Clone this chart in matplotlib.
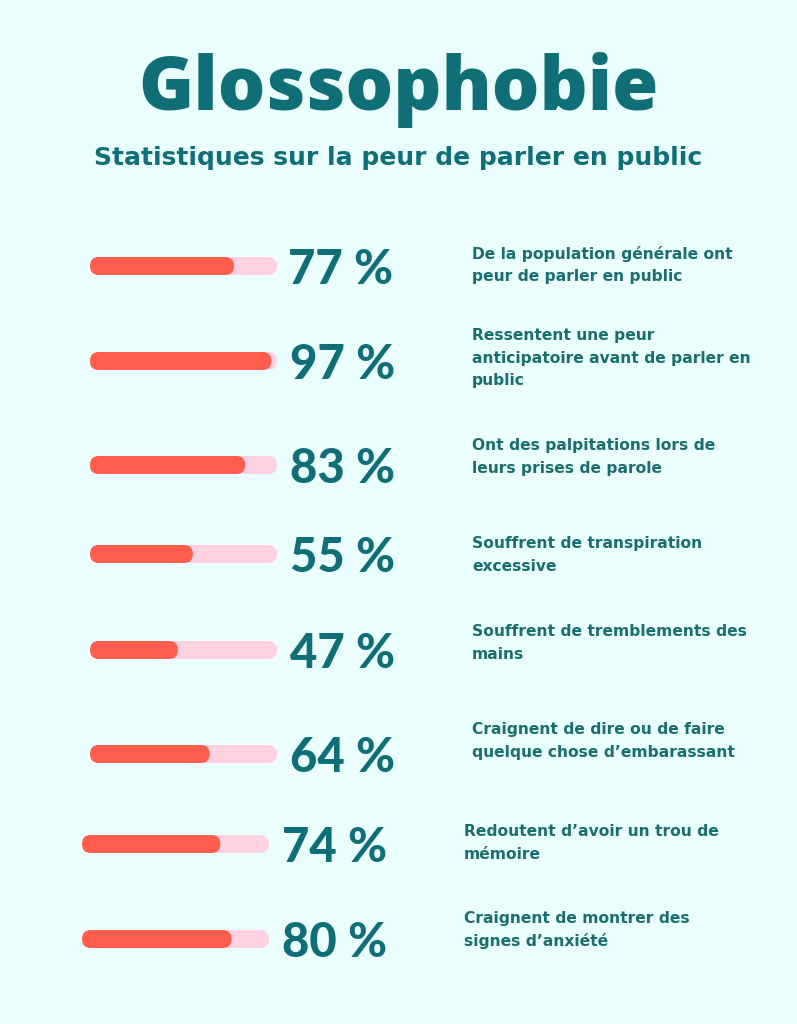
import matplotlib
matplotlib.use("Agg")
import matplotlib.pyplot as plt
from matplotlib.patches import FancyBboxPatch

# ---- data ----
title = "Glossophobie"
subtitle = "Statistiques sur la peur de parler en public"
values = [77, 97, 83, 55, 47, 64, 74, 80]
descriptions = [
    "De la population générale ont\npeur de parler en public",
    "Ressentent une peur\nanticipatoire avant de parler en\npublic",
    "Ont des palpitations lors de\nleurs prises de parole",
    "Souffrent de transpiration\nexcessive",
    "Souffrent de tremblements des\nmains",
    "Craignent de dire ou de faire\nquelque chose d’embarassant",
    "Redoutent d’avoir un trou de\nmémoire",
    "Craignent de montrer des\nsignes d’anxiété",
]

# ---- layout (pixels) ----
W, H = 797, 1024
row_y = [266, 361, 465, 554, 650, 754, 844, 939]
bar_x0 = [90, 90, 90, 90, 90, 90, 82, 82]
pct_x = [288, 290, 290, 290, 290, 290, 282, 282]
desc_x = [472, 472, 472, 472, 472, 472, 464, 464]
desc_y = [265, 358, 457, 555, 643, 741, 843, 930]
bar_len = 187.0
bar_h = 18.0

BG = "#EBFEFE"
TEAL = "#0F6E76"
TEAL_TXT = "#1B6E6E"
CORAL = "#FF5E4E"
PINK = "#FFD1E1"
FONT = "Open Sans"
FONT2 = "DejaVu Sans"
FONT3 = "Lato"

fig = plt.figure(figsize=(W / 100, H / 100), dpi=100, facecolor=BG)
ax = fig.add_axes([0, 0, 1, 1])
ax.set_xlim(0, W)
ax.set_ylim(H, 0)
ax.set_facecolor(BG)
ax.axis("off")

ax.text(W / 2, 90, title, ha="center", va="center", fontsize=54,
        fontfamily=FONT, fontweight=800, color=TEAL)
ax.text(W / 2, 158, subtitle, ha="center", va="center", fontsize=18,
        fontfamily=FONT2, fontweight="bold", color=TEAL)

for i, v in enumerate(values):
    y = row_y[i]
    x0 = bar_x0[i]
    track = FancyBboxPatch((x0, y - bar_h / 2), bar_len, bar_h,
                           boxstyle=f"round,pad=0,rounding_size={bar_h/2}",
                           fc=PINK, ec="none", zorder=2)
    ax.add_patch(track)
    fw = bar_len * v / 100.0
    fill = FancyBboxPatch((x0, y - bar_h / 2), fw, bar_h,
                          boxstyle=f"round,pad=0,rounding_size={bar_h/2}",
                          fc=CORAL, ec="none", zorder=3)
    ax.add_patch(fill)
    ax.text(pct_x[i], y, f"{v} %", ha="left", va="center_baseline", fontsize=34,
            fontfamily=FONT3, fontweight="black", color=TEAL, zorder=4)
    ax.text(desc_x[i], desc_y[i], descriptions[i], ha="left", va="center",
            fontsize=11.2, fontfamily=FONT2, fontweight="bold", color=TEAL_TXT,
            linespacing=1.6, zorder=4)

fig.savefig("out.png", dpi=100, facecolor=BG)
